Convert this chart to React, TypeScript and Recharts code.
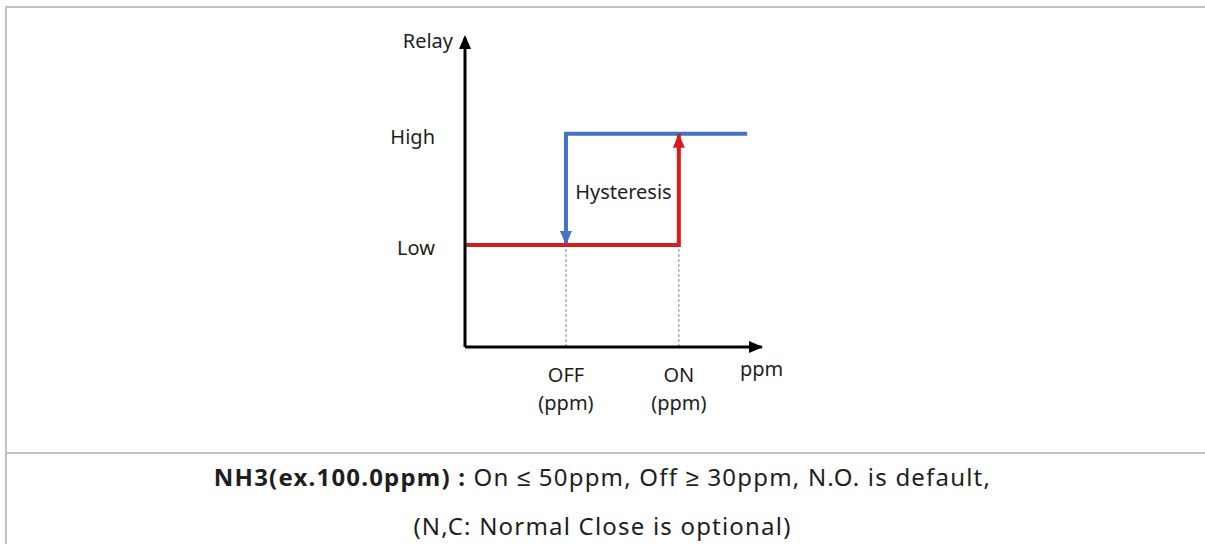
import { ComposedChart, Line, XAxis, YAxis, ReferenceLine, ReferenceDot } from "recharts";

// relay levels (y) and switching points (x) on a 0-100 grid
const levelNames = ["Low", "High"];
const levelValues = [33, 69];
const thresholdNames = ["OFF", "ON"];
const thresholdValues = [34, 72];

// blue: relay drops from High to Low at OFF
const fallingPath = [
  { ppm: 95, relay: 69 },
  { ppm: 34, relay: 69 },
  { ppm: 34, relay: 33 },
];
// red: relay rises from Low to High at ON
const risingPath = [
  { ppm: 0, relay: 33 },
  { ppm: 72, relay: 33 },
  { ppm: 72, relay: 69 },
];

const noteBold = "NH3(ex.100.0ppm) :";
const noteRest = " On ≤ 50ppm, Off ≥ 30ppm, N.O. is default,";
const noteLine2 = "(N,C: Normal Close is optional)";

const FONT = "'Noto Sans', sans-serif";
const TEXT = "#1e1e1e";
const BLUE = "#4472c4";
const RED = "#d81c1c";
const GRID = "#c3c3c3";
const LABEL_SIZE = 20;

const PpmTick = (props: any) => {
  const { x, y, payload } = props;
  const i = thresholdValues.indexOf(payload.value);
  return (
    <text x={x} y={y} textAnchor="middle" fontSize={LABEL_SIZE} fill={TEXT} fontFamily={FONT}>
      <tspan x={x} dy={27}>{thresholdNames[i]}</tspan>
      <tspan x={x} dy={28}>(ppm)</tspan>
    </text>
  );
};

const LevelTick = (props: any) => {
  const { x, y, payload } = props;
  const i = levelValues.indexOf(payload.value);
  return (
    <text x={x} y={y + 10} textAnchor="end" fontSize={LABEL_SIZE} fill={TEXT} fontFamily={FONT}>
      {levelNames[i]}
    </text>
  );
};

const UpArrow = ({ cx, cy, fill, label }: any) => (
  <g>
    <path d={`M${cx},${cy} L${cx - 6},${cy + 14} L${cx + 6},${cy + 14} Z`} fill={fill} />
    {label && (
      <text x={cx - 12} y={cy + 13} textAnchor="end" fontSize={LABEL_SIZE} fill={TEXT} fontFamily={FONT}>
        {label}
      </text>
    )}
  </g>
);

const DownArrow = ({ cx, cy, fill }: any) => (
  <path d={`M${cx},${cy} L${cx - 6},${cy - 14} L${cx + 6},${cy - 14} Z`} fill={fill} />
);

const RightArrow = ({ cx, cy, label }: any) => (
  <g>
    <path d={`M${cx + 1},${cy} L${cx - 13},${cy - 6} L${cx - 13},${cy + 6} Z`} fill="#000" />
    <text x={cx - 22} y={cy + 29} fontSize={LABEL_SIZE} fill={TEXT} fontFamily={FONT}>
      {label}
    </text>
  </g>
);

const HysteresisText = ({ cx, cy }: any) => (
  <text x={cx + 1} y={cy + 10} textAnchor="middle" fontSize={LABEL_SIZE} fill={TEXT} fontFamily={FONT}>
    Hysteresis
  </text>
);

const noteStyle = {
  position: "absolute" as const,
  left: 5,
  width: 1195,
  textAlign: "center" as const,
  fontSize: 24,
  letterSpacing: 1.2,
  lineHeight: "30px",
  color: TEXT,
  whiteSpace: "nowrap" as const,
};

export default function App() {
  return (
    <div
      style={{
        position: "absolute",
        left: 0,
        top: 0,
        width: 1205,
        height: 544,
        overflow: "hidden",
        background: "#fff",
        fontFamily: FONT,
      }}
    >
      <div style={{ position: "absolute", left: 5, right: 0, top: 6, height: 2, background: GRID }} />
      <div style={{ position: "absolute", left: 5, top: 6, width: 2, bottom: 0, background: GRID }} />
      <div style={{ position: "absolute", left: 5, right: 0, top: 452, height: 2, background: GRID }} />

      <div style={{ position: "absolute", left: 0, top: 0 }}>
        <ComposedChart
          width={1205}
          height={453}
          margin={{ top: 38, right: 443, left: 405, bottom: 76 }}
        >
          <XAxis
            type="number"
            dataKey="ppm"
            domain={[0, 100]}
            allowDataOverflow
            ticks={thresholdValues}
            height={30}
            axisLine={{ stroke: "#000", strokeWidth: 3 }}
            tickLine={false}
            tick={<PpmTick />}
          />
          <YAxis
            type="number"
            dataKey="relay"
            domain={[0, 100]}
            allowDataOverflow
            ticks={levelValues}
            width={60}
            tickMargin={24}
            axisLine={{ stroke: "#000", strokeWidth: 3 }}
            tickLine={false}
            tick={<LevelTick />}
          />
          {thresholdValues.map((v, i) => (
            <ReferenceLine
              key={i}
              segment={[
                { x: v, y: 0 },
                { x: v, y: levelValues[0] },
              ]}
              stroke="#6f8bab"
              strokeWidth={1}
              strokeDasharray="3 2"
            />
          ))}
          <Line
            data={fallingPath}
            dataKey="relay"
            stroke={BLUE}
            strokeWidth={4}
            dot={false}
            isAnimationActive={false}
          />
          <Line
            data={risingPath}
            dataKey="relay"
            stroke={RED}
            strokeWidth={4}
            dot={false}
            isAnimationActive={false}
          />
          <ReferenceDot
            x={thresholdValues[0]}
            y={levelValues[0]}
            r={0}
            ifOverflow="visible"
            shape={(p: any) => <DownArrow {...p} fill={BLUE} />}
          />
          <ReferenceDot
            x={thresholdValues[1]}
            y={levelValues[1]}
            r={0}
            ifOverflow="visible"
            shape={(p: any) => <UpArrow {...p} fill={RED} />}
          />
          <ReferenceDot
            x={0}
            y={100}
            r={0}
            ifOverflow="visible"
            shape={(p: any) => <UpArrow {...p} cy={p.cy - 3} fill="#000" label="Relay" />}
          />
          <ReferenceDot
            x={100}
            y={0}
            r={0}
            ifOverflow="visible"
            shape={(p: any) => <RightArrow {...p} label="ppm" />}
          />
          <ReferenceDot
            x={(thresholdValues[0] + thresholdValues[1]) / 2}
            y={(levelValues[0] + levelValues[1]) / 2}
            r={0}
            ifOverflow="visible"
            shape={(p: any) => <HysteresisText {...p} />}
          />
        </ComposedChart>
      </div>

      <div style={{ ...noteStyle, top: 462 }}>
        <b>{noteBold}</b>
        {noteRest}
      </div>
      <div style={{ ...noteStyle, top: 511 }}>{noteLine2}</div>
    </div>
  );
}
